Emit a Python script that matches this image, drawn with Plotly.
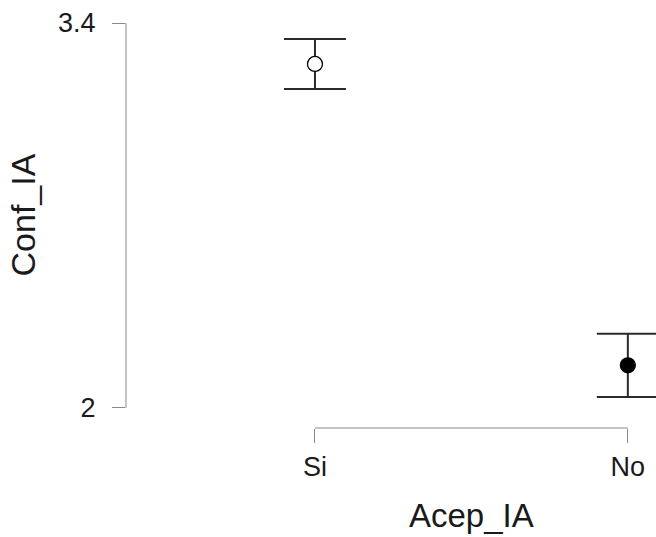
import plotly.graph_objects as go

# Descriptive plot: mean Conf_IA by Acep_IA with 95% CI
categories = ["Si", "No"]
means = [3.251, 2.155]
ci_half = [0.091, 0.115]
y_ticks = [2, 3.4]
y_tick_labels = ["2", "3.4"]

FONT = "Liberation Sans, Arial, sans-serif"
AXIS_GREY = "#8a8a8a"
INK = "#1a1a1a"

fig = go.Figure()

for cat, m, e, fill in zip(categories, means, ci_half, ["white", "black"]):
    fig.add_trace(go.Scatter(
        x=[cat], y=[m],
        mode="markers",
        marker=dict(size=15, color=fill, line=dict(color="black", width=1.3)),
        error_y=dict(type="data", array=[e], visible=True,
                     color="#2b2b2b", thickness=2, width=31),
        showlegend=False,
        cliponaxis=False,
    ))

# range-frame axis lines (span only the data extent)
fig.add_shape(type="line", xref="paper", yref="y", x0=0, x1=0,
              y0=min(y_ticks), y1=max(y_ticks),
              line=dict(color=AXIS_GREY, width=1))
fig.add_shape(type="line", xref="x", yref="paper", x0=0, x1=len(categories) - 1,
              y0=0, y1=0, line=dict(color=AXIS_GREY, width=1))

fig.update_layout(
    width=656, height=537,
    margin=dict(l=126, r=0, t=23, b=109),
    plot_bgcolor="white", paper_bgcolor="white",
    font=dict(family=FONT, color=INK),
    xaxis=dict(
        type="category", categoryorder="array", categoryarray=categories,
        range=[-0.604, 1.09], showgrid=False, zeroline=False, showline=False,
        ticks="outside", ticklen=14, tickwidth=1, tickcolor=AXIS_GREY,
        tickfont=dict(size=27, family=FONT, color=INK), ticklabelstandoff=1,
    ),
    yaxis=dict(
        range=[1.927, 3.4], showgrid=False, zeroline=False, showline=False,
        tickvals=y_ticks, ticktext=y_tick_labels,
        ticks="outside", ticklen=13, tickwidth=1, tickcolor=AXIS_GREY,
        tickfont=dict(size=27, family=FONT, color=INK), ticklabelstandoff=11,
    ),
)

# axis titles centred on the range-frame spans
fig.add_annotation(text="Conf_IA", xref="paper", yref="y", x=-0.2, y=(min(y_ticks) + max(y_ticks)) / 2,
                   xanchor="center", yanchor="middle", textangle=-90, showarrow=False,
                   font=dict(size=34, family=FONT, color=INK), xshift=3)
fig.add_annotation(text="Acep_IA", xref="x", yref="paper", x=0.5, y=0,
                   xanchor="center", yanchor="top", yshift=-67, showarrow=False,
                   font=dict(size=33, family=FONT, color=INK))

fig.write_html("out.html")
